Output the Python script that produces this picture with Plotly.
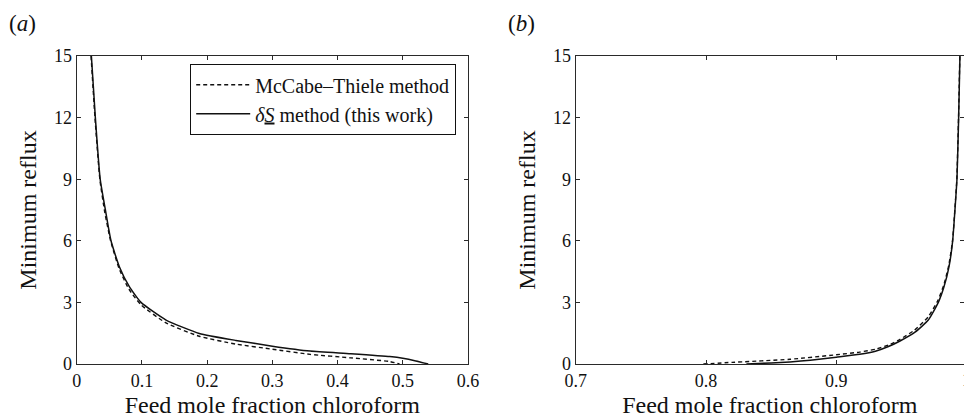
import plotly.graph_objects as go

# Minimum reflux vs. feed composition, low-chloroform branch (a)
a_mt_x = [0.022, 0.028, 0.0355, 0.043, 0.052, 0.065, 0.080, 0.0986, 0.137, 0.188, 0.244, 0.30, 0.358, 0.42, 0.48, 0.495]
a_mt_y = [15.0, 12.0, 9.0, 7.4, 6.0, 4.65, 3.65, 2.88, 2.0, 1.35, 0.97, 0.72, 0.47, 0.30, 0.12, 0.0]
a_ds_x = [0.0225, 0.0286, 0.036, 0.044, 0.0526, 0.0654, 0.0807, 0.0986, 0.137, 0.188, 0.244, 0.30, 0.358, 0.42, 0.48, 0.50, 0.52, 0.539]
a_ds_y = [15.0, 12.0, 9.0, 7.5, 6.0, 4.74, 3.77, 3.0, 2.14, 1.49, 1.15, 0.87, 0.63, 0.50, 0.36, 0.28, 0.15, 0.0]

# High-chloroform branch (b)
b_mt_x = [0.798, 0.82, 0.8645, 0.90, 0.918, 0.93, 0.94, 0.9489, 0.96, 0.9706, 0.978, 0.9825, 0.9863, 0.9892, 0.9915, 0.9925, 0.9938, 0.9948]
b_mt_y = [0.0, 0.08, 0.23, 0.45, 0.58, 0.72, 0.92, 1.2, 1.65, 2.3, 3.1, 3.85, 4.8, 6.0, 8.0, 9.0, 12.0, 15.0]
b_ds_x = [0.831, 0.85, 0.8645, 0.88, 0.90, 0.918, 0.93, 0.94, 0.9489, 0.9604, 0.9706, 0.9783, 0.9827, 0.9865, 0.9893, 0.9916, 0.9926, 0.9939, 0.9949]
b_ds_y = [0.0, 0.05, 0.1, 0.18, 0.33, 0.47, 0.62, 0.85, 1.12, 1.55, 2.14, 3.0, 3.77, 4.74, 6.0, 8.0, 9.0, 12.0, 15.0]

y_ticks = [0, 3, 6, 9, 12, 15]
a_x_ticks = [0, 0.1, 0.2, 0.3, 0.4, 0.5, 0.6]
b_x_ticks = [0.7, 0.8, 0.9]

FONT = "Liberation Serif, Times New Roman, Times, serif"
INK = "#111111"
AX = "#2a2a2a"

fig = go.Figure()
dash = "4px,3px"
fig.add_trace(go.Scatter(x=a_mt_x, y=a_mt_y, mode="lines", name="McCabe–Thiele method",
                         line=dict(color=INK, width=1.4, dash=dash, shape="spline", smoothing=0.5),
                         xaxis="x", yaxis="y"))
fig.add_trace(go.Scatter(x=a_ds_x, y=a_ds_y, mode="lines",
                         name="<i>δ<u>S</u></i> method (this work)",
                         line=dict(color=INK, width=1.5, shape="spline", smoothing=0.5),
                         xaxis="x", yaxis="y"))
fig.add_trace(go.Scatter(x=b_mt_x, y=b_mt_y, mode="lines", showlegend=False,
                         line=dict(color=INK, width=1.4, dash=dash, shape="spline", smoothing=0.5),
                         xaxis="x2", yaxis="y2"))
fig.add_trace(go.Scatter(x=b_ds_x, y=b_ds_y, mode="lines", showlegend=False,
                         line=dict(color=INK, width=1.5, shape="spline", smoothing=0.5),
                         xaxis="x2", yaxis="y2"))

W, H = 964, 418
ydom = [(H - 364) / H, (H - 56) / H]
axis_common = dict(showline=True, linecolor=AX, linewidth=1.3, mirror="allticks",
                   ticks="inside", ticklen=4, tickwidth=1.2, tickcolor=AX,
                   showgrid=False, zeroline=False, automargin=False,
                   tickfont=dict(family=FONT, size=18, color=INK))
title_font = dict(family=FONT, size=24, color=INK)

fig.update_layout(
    width=W, height=H,
    margin=dict(l=0, r=0, t=0, b=0, pad=0, autoexpand=False),
    paper_bgcolor="white", plot_bgcolor="white",
    font=dict(family=FONT, color=INK),
    showlegend=True,
    legend=dict(x=456 / W, y=(H - 64) / H, xanchor="right", yanchor="top",
                bordercolor=INK, borderwidth=1.2, bgcolor="white",
                font=dict(family=FONT, size=20, color=INK),
                itemwidth=54, tracegroupgap=0),
    xaxis=dict(domain=[76.7 / W, 468 / W], range=[0, 0.6], tickvals=a_x_ticks,
               ticktext=[f"{v:g}" for v in a_x_ticks],
               title=dict(text="Feed mole fraction chloroform", font=title_font, standoff=8),
               anchor="y", **axis_common),
    yaxis=dict(domain=ydom, range=[0, 15], tickvals=y_ticks,
               title=dict(text="Minimum reflux", font=title_font, standoff=10),
               anchor="x", **axis_common),
    xaxis2=dict(domain=[575.7 / W, 1.0], range=[0.7, 0.7 + (W - 575.7) / 1303],
                tickvals=b_x_ticks, ticktext=[f"{v:g}" for v in b_x_ticks],
                title=dict(text="Feed mole fraction chloroform", font=title_font, standoff=8),
                anchor="y2", **axis_common),
    yaxis2=dict(domain=ydom, range=[0, 15], tickvals=y_ticks,
                title=dict(text="Minimum reflux", font=title_font, standoff=10),
                anchor="x2", **axis_common),
)

# Panel labels and the x = 1 tick label sitting at the page edge
fig.add_annotation(text="(<i>a</i>)", x=7 / W, y=(H - 24) / H, xref="paper", yref="paper",
                   xanchor="left", yanchor="middle", showarrow=False,
                   font=dict(family=FONT, size=23, color=INK))
fig.add_annotation(text="(<i>b</i>)", x=506 / W, y=(H - 24) / H, xref="paper", yref="paper",
                   xanchor="left", yanchor="middle", showarrow=False,
                   font=dict(family=FONT, size=23, color=INK))
fig.add_annotation(text="1", x=966.7 / W, y=(H - 380) / H, xref="paper", yref="paper",
                   xanchor="center", yanchor="middle", showarrow=False,
                   font=dict(family=FONT, size=18, color=INK))

fig.write_html("out.html")
